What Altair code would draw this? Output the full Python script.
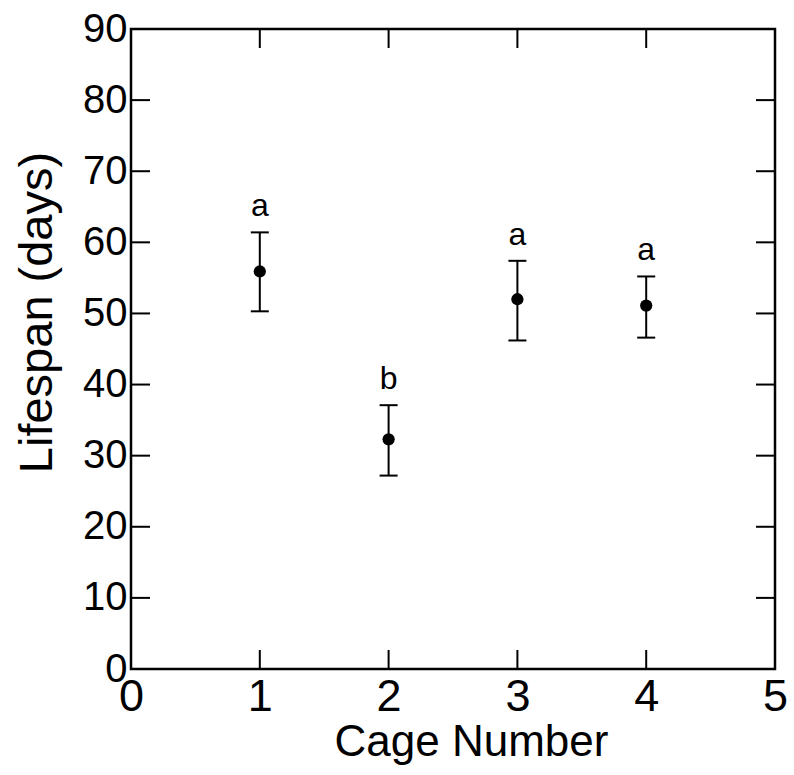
import altair as alt
import pandas as pd

# Mean lifespan per cage with error-bar limits and significance letters
cages = [1, 2, 3, 4]
mean_days = [55.9, 32.3, 52.0, 51.1]
upper_days = [61.4, 37.1, 57.4, 55.2]
lower_days = [50.3, 27.2, 46.2, 46.6]
letters = ["a", "b", "a", "a"]

x_ticks = [0, 1, 2, 3, 4, 5]
y_ticks = [0, 10, 20, 30, 40, 50, 60, 70, 80, 90]

W, H = 644, 640
TICK = 19
FONT = "Liberation Sans"

df = pd.DataFrame({"cage": cages, "mean": mean_days, "hi": upper_days,
                   "lo": lower_days, "letter": letters})
xt = pd.DataFrame({"v": x_ticks})
yt = pd.DataFrame({"v": y_ticks})

xs = alt.Scale(domain=[0, 5], nice=False, zero=False)
ys = alt.Scale(domain=[0, 90], nice=False, zero=False)

x_axis = alt.Axis(values=x_ticks, format="d", ticks=False, domain=False,
                  grid=False, labelFontSize=45, labelFont=FONT,
                  labelColor="black", labelPadding=5, labelFlush=False,
                  title="Cage Number", titleFontSize=44, titleFont=FONT,
                  titleFontWeight="normal", titleColor="black",
                  titleX=340, titleY=86, titleBaseline="alphabetic")
y_axis = alt.Axis(values=y_ticks, format="d", ticks=False, domain=False,
                  grid=False, labelFontSize=40, labelFont=FONT,
                  labelColor="black", labelPadding=4, labelFlush=False,
                  title="Lifespan (days)", titleFontSize=47, titleFont=FONT,
                  titleFontWeight="normal", titleColor="black",
                  titleX=-94, titleY=283, titleBaseline="middle",
                  titleAlign="center", titleAngle=-90)

base = alt.Chart(df)

# error bar stems and caps
stems = base.mark_rule(color="black", strokeWidth=2, opacity=1).encode(
    x=alt.X("cage:Q", scale=xs, axis=x_axis),
    y=alt.Y("lo:Q", scale=ys, axis=y_axis),
    y2="hi:Q",
)
cap_style = dict(color="black", thickness=2, size=18, opacity=1,
                 orient="horizontal")
caps_hi = base.mark_tick(**cap_style).encode(
    x=alt.X("cage:Q", scale=xs), y=alt.Y("hi:Q", scale=ys))
caps_lo = base.mark_tick(**cap_style).encode(
    x=alt.X("cage:Q", scale=xs), y=alt.Y("lo:Q", scale=ys))

points = base.mark_circle(color="black", opacity=1, size=150).encode(
    x=alt.X("cage:Q", scale=xs), y=alt.Y("mean:Q", scale=ys))

labels = base.mark_text(font=FONT, fontSize=32, color="black",
                        baseline="alphabetic", dy=-16).encode(
    x=alt.X("cage:Q", scale=xs), y=alt.Y("hi:Q", scale=ys), text="letter:N")

# inward ticks on all four sides of the frame
tick_style = dict(color="black", strokeWidth=2, opacity=1)
y_left = alt.Chart(yt).mark_rule(**tick_style).encode(
    y=alt.Y("v:Q", scale=ys), x=alt.value(0), x2=alt.value(TICK))
y_right = alt.Chart(yt).mark_rule(**tick_style).encode(
    y=alt.Y("v:Q", scale=ys), x=alt.value(W - TICK), x2=alt.value(W))
x_bottom = alt.Chart(xt).mark_rule(**tick_style).encode(
    x=alt.X("v:Q", scale=xs), y=alt.value(H - TICK), y2=alt.value(H))
x_top = alt.Chart(xt).mark_rule(**tick_style).encode(
    x=alt.X("v:Q", scale=xs), y=alt.value(0), y2=alt.value(TICK))

chart = alt.layer(
    stems, caps_hi, caps_lo, points, labels, y_left, y_right, x_bottom, x_top
).properties(
    width=W, height=H,
    autosize=alt.AutoSizeParams(type="none"),
    padding={"left": 131, "top": 29, "right": 19, "bottom": 106},
    background="white",
).configure_view(stroke="black", strokeWidth=2.5)

chart.save("out.html", embed_options={"renderer": "svg", "actions": False})
